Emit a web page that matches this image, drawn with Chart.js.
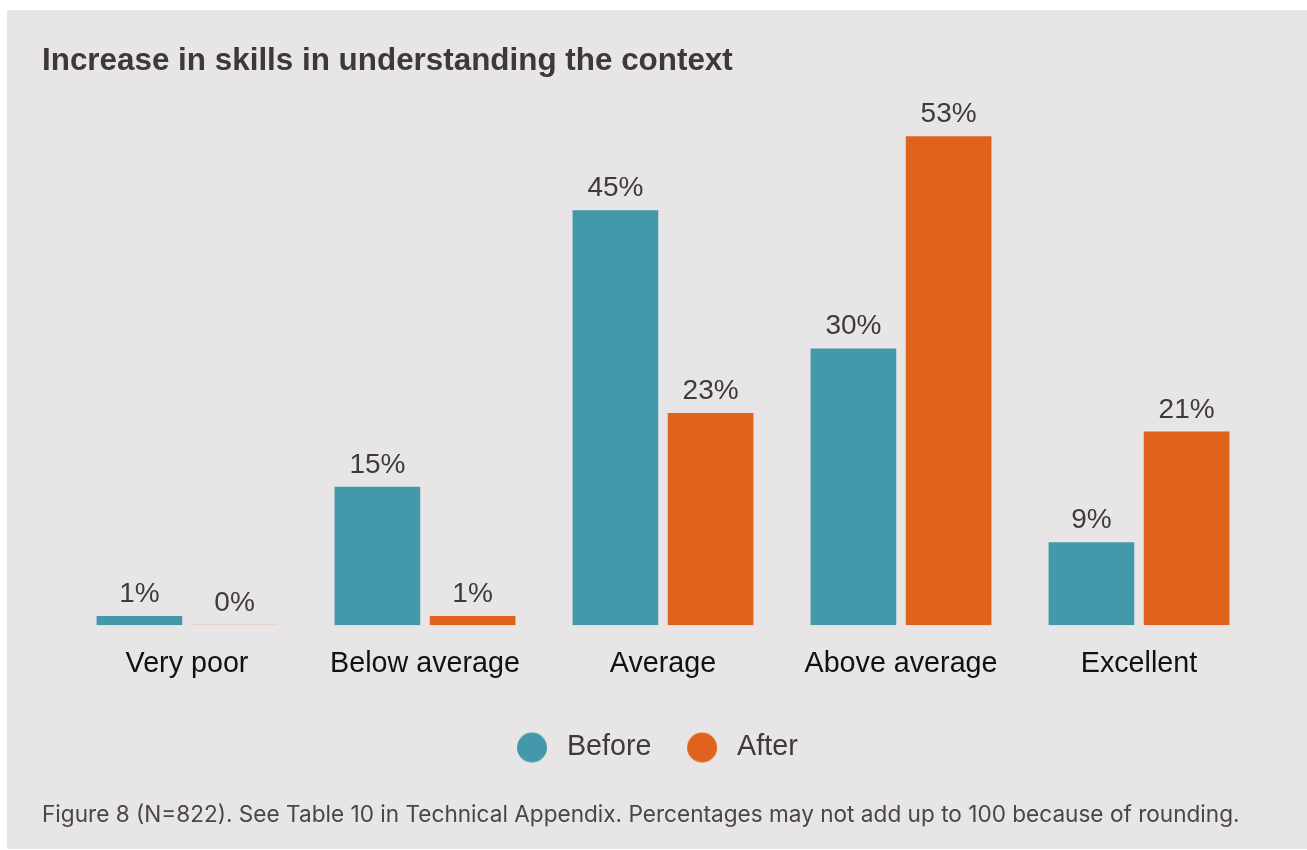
<!DOCTYPE html>
<html>
<head>
<meta charset="utf-8">
<script src="https://cdn.jsdelivr.net/npm/chart.js@4"></script>
<style>
  html, body { margin: 0; padding: 0; background: #ffffff; }
  #panel { position: absolute; left: 7px; top: 10px; width: 1300px; height: 839px; background: #e7e5e6; }
  #panel canvas { display: block; }
</style>
</head>
<body>
<div id="panel"><canvas id="chart" width="1300" height="839"></canvas></div>
<script>
// Rating categories and survey shares (%)
const categories = ['Very poor', 'Below average', 'Average', 'Above average', 'Excellent'];
const beforeValues = [1, 15, 45, 30, 9];
const afterValues = [0, 1, 23, 53, 21];
const seriesNames = ['Before', 'After'];
const titleText = 'Increase in skills in understanding the context';
const noteText = 'Figure 8 (N=822). See Table 10 in Technical Appendix. Percentages may not add up to 100 because of rounding.';

const TEAL = '#4398aa';
const ORANGE = '#df631d';
const LABEL_FONT = 'Liberation Sans, Arial, sans-serif';
const NOTE_FONT = 'Inter, Liberation Sans, sans-serif';

// Round legend markers
function dot(color) {
  const c = document.createElement('canvas');
  c.width = 34; c.height = 34;
  const g = c.getContext('2d');
  g.fillStyle = color;
  g.beginPath();
  g.arc(17, 17, 15, 0, Math.PI * 2);
  g.fill();
  return c;
}
const markers = [dot(TEAL), dot(ORANGE)];

// Percent labels above each bar
const valueLabels = {
  id: 'valueLabels',
  afterDatasetsDraw(chart) {
    const ctx = chart.ctx;
    ctx.save();
    ctx.font = '28px ' + LABEL_FONT;
    ctx.fillStyle = '#3f3b3c';
    ctx.textAlign = 'center';
    ctx.textBaseline = 'alphabetic';
    chart.data.datasets.forEach((ds, di) => {
      const meta = chart.getDatasetMeta(di);
      meta.data.forEach((bar, i) => {
        const v = ds.data[i];
        const top = chart.scales.y.getPixelForValue(v);
        ctx.fillText(v + '%', bar.x, top - 14);
      });
    });
    ctx.restore();
  }
};

// Blank side axes that reserve room beside the plot
const blankAxis = (pos, w) => ({
  type: 'linear',
  position: pos,
  min: 0, max: 57,
  grid: { display: false },
  border: { display: false },
  ticks: { display: false },
  afterFit(scale) { scale.width = w; }
});

new Chart(document.getElementById('chart'), {
  type: 'bar',
  data: {
    labels: categories,
    datasets: [
      { label: seriesNames[0], data: beforeValues, backgroundColor: TEAL },
      {
        label: seriesNames[1], data: afterValues,
        backgroundColor: (c) => (c.raw === 0 ? 'rgba(223,99,29,0.18)' : ORANGE),
        minBarLength: 1
      }
    ]
  },
  options: {
    responsive: false,
    animation: false,
    layout: { padding: { left: 35, right: 40, top: 0, bottom: 0 } },
    scales: {
      x: {
        grid: { display: false },
        border: { display: false },
        ticks: { color: '#111111', font: { family: LABEL_FONT, size: 28.7 }, padding: 14 },
        afterFit(scale) { scale.height = 78; }
      },
      y: blankAxis('left', 26),
      yRight: blankAxis('right', 9)
    },
    plugins: {
      title: {
        display: true,
        text: titleText,
        align: 'start',
        color: '#3d3839',
        font: { family: LABEL_FONT, size: 31.4, weight: 'bold' },
        padding: { top: 32.5, bottom: 19.3 }
      },
      subtitle: {
        display: true,
        position: 'bottom',
        text: noteText,
        align: 'start',
        color: '#4a4647',
        font: { family: NOTE_FONT, size: 22.6 },
        padding: { top: 30, bottom: 20 }
      },
      legend: {
        position: 'bottom',
        labels: {
          usePointStyle: true,
          pointStyleWidth: 41.3,
          padding: 30,
          color: '#3f3b3c',
          font: { family: LABEL_FONT, size: 28.7 },
          generateLabels(chart) {
            const items = Chart.defaults.plugins.legend.labels.generateLabels(chart);
            items.forEach((it, i) => { it.pointStyle = markers[i]; });
            return items;
          }
        }
      },
      tooltip: { enabled: false }
    }
  },
  plugins: [valueLabels]
});
</script>
</body>
</html>
